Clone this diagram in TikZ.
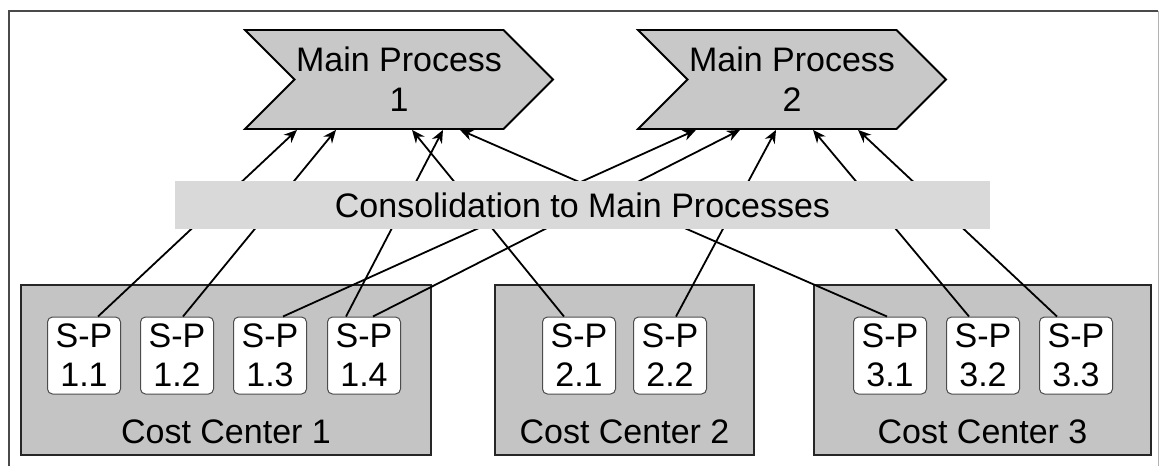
\documentclass[tikz,border=0pt]{standalone}
\usepackage{fontspec}
\setmainfont{Liberation Sans}
\usetikzlibrary{shapes.symbols,arrows.meta}
\definecolor{mpgray}{HTML}{C8C8C8}
\definecolor{bargray}{HTML}{D9D9D9}
\definecolor{ccgray}{HTML}{C4C4C4}
\definecolor{framegray}{HTML}{4A4A4A}

\begin{document}
\begin{tikzpicture}[x=1pt,y=-1pt,
    every node/.style={font=\fontsize{34}{40}\selectfont, inner sep=0pt},
    mainproc/.style={signal, signal to=east, signal from=west, signal pointer angle=90,
      draw, line width=1.8pt, fill=mpgray, minimum width=308pt, minimum height=99pt, align=center},
    costctr/.style={draw=black!85, line width=1.8pt, fill=ccgray, minimum height=170pt},
    subproc/.style={draw=black!70, line width=1pt, fill=white, rounded corners=5pt,
      minimum width=73pt, minimum height=77pt, align=center, font=\fontsize{34}{39}\selectfont},
    feed/.style={-{Stealth[length=13pt,width=11pt]}, line width=1.8pt}]
      \useasboundingbox (0,0) rectangle (1161,466);
      \fill[white] (0,0) rectangle (1161,466);
      \draw[framegray, line width=1.5pt] (9,466) -- (9,11) -- (1158,11);
      \draw[black!30, line width=1pt] (1158,11) -- (1158,466);

      % cost centers
      \node[costctr, minimum width=410pt] (cc1) at (226,370) {};
      \node[costctr, minimum width=259pt] (cc2) at (624.5,370) {};
      \node[costctr, minimum width=337pt] (cc3) at (982.5,370) {};
      \node (cc1lbl) at (226,432) {Cost Center 1};
      \node (cc2lbl) at (624.5,432) {Cost Center 2};
      \node (cc3lbl) at (982.5,432) {Cost Center 3};

      % sub-processes
      \node[subproc] (sp11) at (84,355.5) {S-P\\1.1};
      \node[subproc] (sp12) at (177,355.5) {S-P\\1.2};
      \node[subproc] (sp13) at (270,355.5) {S-P\\1.3};
      \node[subproc] (sp14) at (364,355.5) {S-P\\1.4};
      \node[subproc] (sp21) at (579,355.5) {S-P\\2.1};
      \node[subproc] (sp22) at (670,355.5) {S-P\\2.2};
      \node[subproc] (sp31) at (890,355.5) {S-P\\3.1};
      \node[subproc] (sp32) at (983,355.5) {S-P\\3.2};
      \node[subproc] (sp33) at (1076,355.5) {S-P\\3.3};

      % main processes
      \node[mainproc] (mp1) at (399,79.5) {Main Process\\1};
      \node[mainproc] (mp2) at (792,79.5) {Main Process\\2};

      % links
      \draw[feed] ([xshift=14pt]sp11.north) -- ([xshift=-102pt]mp1.south);
      \draw[feed] ([xshift=6pt]sp12.north) -- ([xshift=-63pt]mp1.south);
      \draw[feed] ([xshift=13pt]sp13.north) -- ([xshift=-96pt]mp2.south);
      \draw[feed] ([xshift=-18pt]sp14.north) -- ([xshift=44pt]mp1.south);
      \draw[feed] ([xshift=9pt]sp14.north) -- ([xshift=-52pt]mp2.south);
      \draw[feed] ([xshift=-15pt]sp21.north) -- ([xshift=13pt]mp1.south);
      \draw[feed] ([xshift=6pt]sp22.north) -- ([xshift=-16pt]mp2.south);
      \draw[feed] ([xshift=-3pt]sp31.north) -- ([xshift=61pt]mp1.south);
      \draw[feed] ([xshift=-14pt]sp32.north) -- ([xshift=21pt]mp2.south);
      \draw[feed] ([xshift=-19pt]sp33.north) -- ([xshift=66pt]mp2.south);

      % consolidation bar on top of the links
      \node[fill=bargray, minimum width=815pt, minimum height=48pt] (consol) at (582.5,205) {Consolidation to Main Processes};
\end{tikzpicture}
\end{document}
